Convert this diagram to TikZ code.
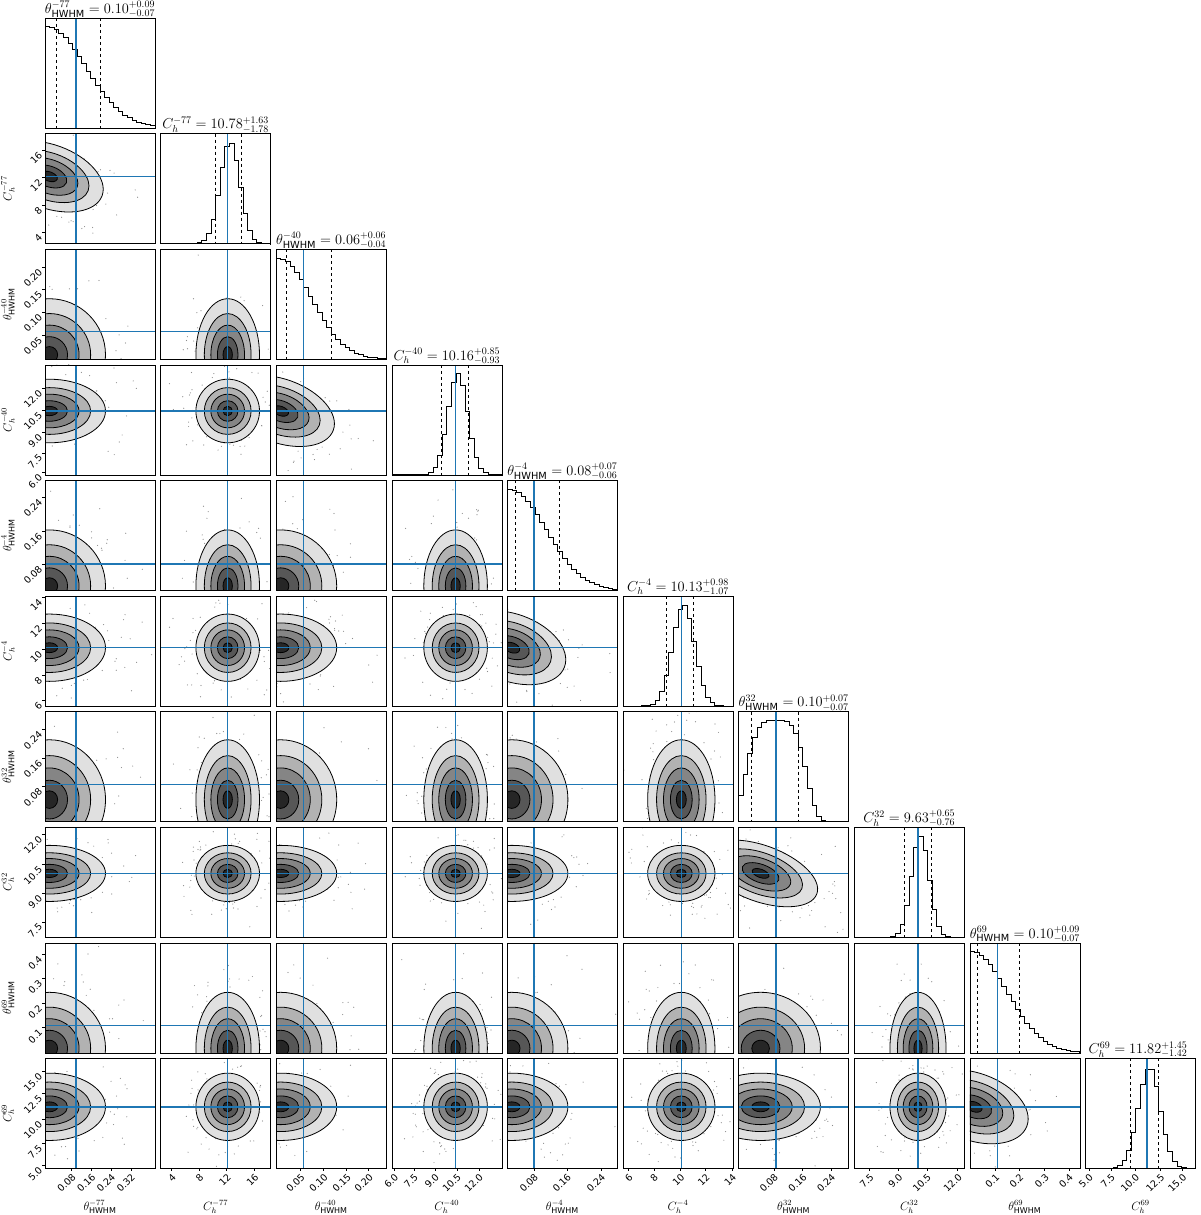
\documentclass[tikz,border=0pt]{standalone}
\usepackage{fontspec}
\setmainfont{DejaVu Sans}
\definecolor{mplblue}{RGB}{31,119,180}
\tikzset{ticklab/.style={font=\fontsize{9.5}{9.5}\selectfont, inner sep=0.5pt},
 frame/.style={draw=black,line width=0.6pt},
 bline/.style={draw=mplblue,line width=1.4pt},
 ttl/.style={font=\fontsize{14}{14}\selectfont, anchor=south, inner sep=0.5pt},
 axlab/.style={font=\fontsize{12}{12}\selectfont, inner sep=0pt}}
\newcommand\myticks[2]{%
 \foreach \f/\t in {#2}{%
   \pgfmathsetmacro\tx{45+115.6*#1+110*\f}%
   \draw (\tx,1168) -- ++(0,3);
   \node[rotate=45,anchor=east,ticklab] at (\tx+3,1175) {\t};
   \ifnum#1>0
   \pgfmathsetmacro\ty{18+115.6*#1+110-110*\f}%
   \draw (45,\ty) -- ++(-3,0);
   \node[rotate=45,anchor=east,ticklab] at (41,\ty+3) {\t};
   \fi}}
\begin{document}
\begin{tikzpicture}[x=1pt,y=-1pt]
\useasboundingbox (0,0) rectangle (1200,1215);
\pgfmathsetseed{7}
\def\P{110}
\def\Mv{{0.28,0.61,0.25,0.58,0.24,0.53,0.34,0.58,0.25,0.56}}
\def\Cv{{0.04,0.61,0.04,0.58,0.04,0.53,0.2,0.58,0.04,0.56}}
\def\Sv{{0.15,0.085,0.15,0.085,0.15,0.09,0.16,0.075,0.15,0.09}}
\def\Lv{{0.1,0.5,0.09,0.45,0.07,0.39,0.12,0.46,0.07,0.41}}
\def\Hv{{0.5,0.73,0.5,0.7,0.47,0.64,0.54,0.7,0.45,0.66}}
\def\HCv{{0,0.61,0,0.58,0,0.53,0.32,0.58,0,0.56}}
\def\HSv{{0.35,0.09,0.3,0.09,0.33,0.1,0.25,0.08,0.32,0.1}}
\def\HPv{{2,2,2,2,2,2,4,2,2,2}}
\foreach \i in {0,...,9}{
 \foreach \j in {0,...,9}{
  \pgfmathsetmacro\xl{45+115.6*\j}
  \pgfmathsetmacro\yt{18+115.6*\i}
  \ifnum\j<\i
   \pgfmathsetmacro\cx{\xl+\P*\Cv[\j]}
   \pgfmathsetmacro\cy{\yt+\P-\P*\Cv[\i]}
   \pgfmathsetmacro\rx{\P*\Sv[\j]}
   \pgfmathsetmacro\ry{\P*\Sv[\i]}
   \pgfmathsetmacro\rot{ifthenelse(\i==\j+1,ifthenelse(mod(\j,2)==0,-20,0),0)}
   \begin{scope}
    \clip (\xl,\yt) rectangle ++(\P,\P);
    \begin{scope}[shift={(\cx,\cy)},rotate=\rot]
     \foreach \n in {1,...,140}{
      \pgfmathsetmacro\du{\rx*2.3*(rand+rand+rand)}
      \pgfmathsetmacro\dv{\ry*2.3*(rand+rand+rand)}
      \fill[black!45] (\du,\dv) circle[radius=0.6pt];
     }
     \foreach \k/\g in {3.4/12,2.5/30,1.8/48,1.1/66,0.5/85}{
      \pgfmathsetmacro\ax{\k*\rx}\pgfmathsetmacro\ay{\k*\ry}
      \path[fill=black!\g,draw=black,line width=0.8pt] (0,0) ellipse[x radius=\ax, y radius=\ay];
     }
    \end{scope}
    \pgfmathsetmacro\bx{\xl+\P*\Mv[\j]}
    \pgfmathsetmacro\by{\yt+\P-\P*\Mv[\i]}
    \draw[bline] (\bx,\yt) -- ++(0,\P);
    \draw[bline] (\xl,\by) -- ++(\P,0);
   \end{scope}
   \draw[frame] (\xl,\yt) rectangle ++(\P,\P);
  \fi
  \ifnum\j=\i
   \pgfmathsetmacro\hc{\HCv[\i]}
   \pgfmathsetmacro\hs{\HSv[\i]}
   \pgfmathsetmacro\hp{\HPv[\i]}
   \draw[black,line width=0.8pt] plot[const plot, domain=0:1, samples=25]
     ({\xl+\P*\x}, {\yt+\P-\P*0.92*exp(-0.5*pow(abs(\x-\hc)/\hs+0.0001,\hp))});
   \pgfmathsetmacro\lx{\xl+\P*\Lv[\i]}
   \pgfmathsetmacro\hx{\xl+\P*\Hv[\i]}
   \pgfmathsetmacro\mx{\xl+\P*\Mv[\i]}
   \draw[dashed,line width=0.8pt] (\lx,\yt) -- ++(0,\P);
   \draw[dashed,line width=0.8pt] (\hx,\yt) -- ++(0,\P);
   \draw[bline] (\mx,\yt) -- ++(0,\P);
   \draw[frame] (\xl,\yt) rectangle ++(\P,\P);
  \fi
 }}
% titles
\node[ttl] (t0) at (100,18) {$\theta^{-77}_{\mathrm{HWHM}} = 0.10^{+0.09}_{-0.07}$};
\node[ttl] (t1) at (215.6,133.6) {$C^{-77}_h = 10.78^{+1.63}_{-1.78}$};
\node[ttl] (t2) at (331.2,249.2) {$\theta^{-40}_{\mathrm{HWHM}} = 0.06^{+0.06}_{-0.04}$};
\node[ttl] (t3) at (446.8,364.8) {$C^{-40}_h = 10.16^{+0.85}_{-0.93}$};
\node[ttl] (t4) at (562.4,480.4) {$\theta^{-4}_{\mathrm{HWHM}} = 0.08^{+0.07}_{-0.06}$};
\node[ttl] (t5) at (678,596) {$C^{-4}_h = 10.13^{+0.98}_{-1.07}$};
\node[ttl] (t6) at (793.6,711.6) {$\theta^{32}_{\mathrm{HWHM}} = 0.10^{+0.07}_{-0.07}$};
\node[ttl] (t7) at (909.2,827.2) {$C^{32}_h = 9.63^{+0.65}_{-0.76}$};
\node[ttl] (t8) at (1024.8,942.8) {$\theta^{69}_{\mathrm{HWHM}} = 0.10^{+0.09}_{-0.07}$};
\node[ttl] (t9) at (1138,1058.4) {$C^{69}_h = 11.82^{+1.45}_{-1.42}$};
% ticks
\myticks{0}{0.24/0.08,0.42/0.16,0.6/0.24,0.78/0.32}
\myticks{1}{0.1/4,0.35/8,0.6/12,0.85/16}
\myticks{2}{0.22/0.05,0.43/0.10,0.64/0.15,0.84/0.20}
\myticks{3}{0.02/6.0,0.2/7.5,0.39/9.0,0.59/10.5,0.79/12.0}
\myticks{4}{0.24/0.08,0.54/0.16,0.85/0.24}
\myticks{5}{0.05/6,0.28/8,0.52/10,0.75/12,0.99/14}
\myticks{6}{0.32/0.08,0.58/0.16,0.84/0.24}
\myticks{7}{0.14/7.5,0.4/9.0,0.66/10.5,0.94/12.0}
\myticks{8}{0.23/0.1,0.45/0.2,0.68/0.3,0.9/0.4}
\myticks{9}{0.03/5.0,0.23/7.5,0.45/10.0,0.68/12.5,0.88/15.0}
% axis labels
\foreach \k/\lab in {0/{\theta^{-77}_{\mathrm{HWHM}}},1/{C^{-77}_h},2/{\theta^{-40}_{\mathrm{HWHM}}},3/{C^{-40}_h},4/{\theta^{-4}_{\mathrm{HWHM}}},5/{C^{-4}_h},6/{\theta^{32}_{\mathrm{HWHM}}},7/{C^{32}_h},8/{\theta^{69}_{\mathrm{HWHM}}},9/{C^{69}_h}}{
  \pgfmathsetmacro\cxx{100+115.6*\k}
  \node[axlab] (xl\k) at (\cxx,1207) {$\lab$};
  \ifnum\k>0
   \node[axlab,rotate=90] (yl\k) at (8,\cxx-27) {$\lab$};
  \fi
}
\end{tikzpicture}
\end{document}
